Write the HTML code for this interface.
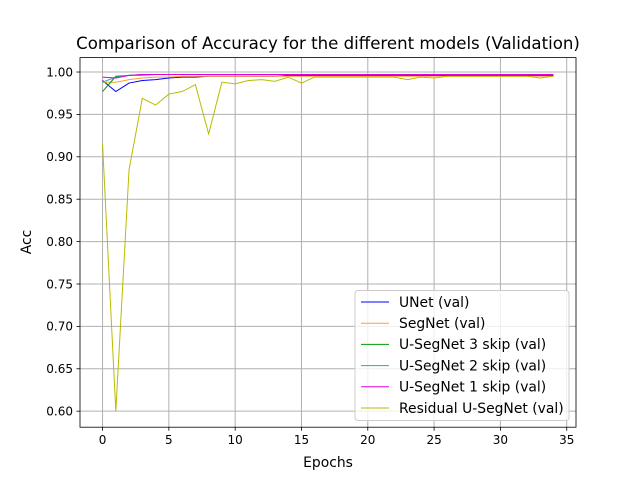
<!DOCTYPE html>
<html><head><meta charset="utf-8"><style>
body{margin:0;background:#fff}
svg{display:block;font-family:"DejaVu Sans","Liberation Sans",sans-serif}
</style></head><body>
<svg id="chart" width="640" height="480" viewBox="0 0 640 480"></svg>
<script>
const epochs = Array.from({length:35},(_, i)=>i);
const xTicks = [0,5,10,15,20,25,30,35];
const yTicks = [0.60,0.65,0.70,0.75,0.80,0.85,0.90,0.95,1.00];
const seriesNames = ["UNet (val)","SegNet (val)","U-SegNet 3 skip (val)","U-SegNet 2 skip (val)","U-SegNet 1 skip (val)","Residual U-SegNet (val)"];
const seriesColors = ["#0000ff","#ffa030","#009900","#20b0b0","#dd00dd","#bbbb00"];
const unetVals = [0.990,0.977,0.987,0.990,0.991,0.993,0.994,0.994,0.995,0.995,0.995,0.995,0.995,0.995,0.996,0.996,0.996,0.996,0.996,0.996,0.996,0.996,0.996,0.996,0.996,0.996,0.996,0.996,0.996,0.996,0.996,0.996,0.996,0.996,0.996];
const segnetVals = [0.988,0.988,0.991,0.993,0.994,0.994,0.995,0.995,0.995,0.995,0.995,0.995,0.995,0.995,0.995,0.995,0.995,0.995,0.995,0.995,0.995,0.995,0.995,0.995,0.995,0.995,0.995,0.995,0.995,0.995,0.995,0.995,0.995,0.995,0.995];
const useg3Vals = [0.977,0.995,0.996,0.997,0.997,0.997,0.997,0.997,0.997,0.997,0.997,0.997,0.997,0.997,0.997,0.997,0.997,0.997,0.997,0.997,0.997,0.997,0.997,0.997,0.997,0.997,0.997,0.997,0.997,0.997,0.997,0.997,0.997,0.997,0.997];
const useg2Vals = [0.988,0.994,0.996,0.996,0.997,0.997,0.997,0.997,0.997,0.997,0.997,0.997,0.997,0.997,0.997,0.997,0.997,0.997,0.997,0.997,0.997,0.997,0.997,0.997,0.997,0.997,0.997,0.997,0.997,0.997,0.997,0.997,0.997,0.997,0.997];
const useg1Vals = [0.994,0.993,0.996,0.997,0.997,0.997,0.997,0.997,0.997,0.997,0.997,0.997,0.997,0.997,0.997,0.997,0.997,0.997,0.997,0.997,0.997,0.997,0.997,0.997,0.997,0.997,0.997,0.997,0.997,0.997,0.997,0.997,0.997,0.997,0.997];
const residualVals = [0.915,0.600,0.885,0.969,0.961,0.974,0.977,0.985,0.927,0.988,0.986,0.990,0.991,0.989,0.994,0.987,0.994,0.994,0.994,0.994,0.994,0.994,0.994,0.991,0.994,0.993,0.995,0.995,0.995,0.995,0.995,0.995,0.995,0.993,0.995];
const allSeries = [unetVals,segnetVals,useg3Vals,useg2Vals,useg1Vals,residualVals];

const L=80,R=576,T=57.6,B=427.2;
const xMin=-1.7,xMax=35.7,yMin=0.5811,yMax=1.0170;
const xs=v=>L+(v-xMin)/(xMax-xMin)*(R-L);
const ys=v=>B-(v-yMin)/(yMax-yMin)*(B-T);
const svg=document.getElementById('chart');
const NS='http://www.w3.org/2000/svg';
function mk(tag,attrs,parent){const e=document.createElementNS(NS,tag);for(const k in attrs)e.setAttribute(k,attrs[k]);(parent||svg).appendChild(e);return e;}

const grid=mk('g',{});


xTicks.forEach(t=>{
  mk('line',{x1:xs(t),x2:xs(t),y1:T,y2:B,stroke:'#b0b0b0','stroke-width':1},grid);
  mk('line',{x1:xs(t),x2:xs(t),y1:B,y2:B+3.5,stroke:'#000','stroke-width':0.8});
  const tx=mk('text',{x:xs(t),y:B+17,'font-size':12,'text-anchor':'middle'});
  tx.textContent=t;
  
  
});
yTicks.forEach(t=>{
  mk('line',{x1:L,x2:R,y1:ys(t),y2:ys(t),stroke:'#b0b0b0','stroke-width':1},grid);
  mk('line',{x1:L-3.5,x2:L,y1:ys(t),y2:ys(t),stroke:'#000','stroke-width':0.8});
  const tx=mk('text',{x:L-7,y:ys(t)+4.3,'font-size':12,'text-anchor':'end'});
  tx.textContent=t.toFixed(2);
  
  
});

allSeries.forEach((vals,i)=>{
  const p=mk('polyline',{points:vals.map((v,j)=>xs(epochs[j])+','+ys(v)).join(' '),fill:'none',stroke:seriesColors[i],'stroke-width':1});
  
  
});

const frame=mk('rect',{x:L,y:T,width:R-L,height:B-T,fill:'none',stroke:'#000','stroke-width':0.8});



const title=mk('text',{x:328,y:49,'font-size':16.6,'text-anchor':'middle'});
title.textContent='Comparison of Accuracy for the different models (Validation)';


const xl=mk('text',{x:328,y:467,'font-size':13.9,'text-anchor':'middle'});
xl.textContent='Epochs';


const yl=mk('text',{x:0,y:0,'font-size':13.9,'text-anchor':'middle',transform:'translate(31,242) rotate(-90)'});
yl.textContent='Acc';



const lg=mk('g',{});


mk('rect',{x:355,y:290.5,width:214,height:130,rx:3,fill:'#fff','fill-opacity':0.8,stroke:'#ccc','stroke-width':1},lg);
seriesNames.forEach((n,i)=>{
  const y=302+i*21.2;
  mk('line',{x1:361,x2:389,y1:y,y2:y,stroke:seriesColors[i],'stroke-width':1},lg);
  const t=mk('text',{x:399,y:y+4.8,'font-size':13.9},lg);
  t.textContent=n;
  
  
});
</script>
</body></html>
